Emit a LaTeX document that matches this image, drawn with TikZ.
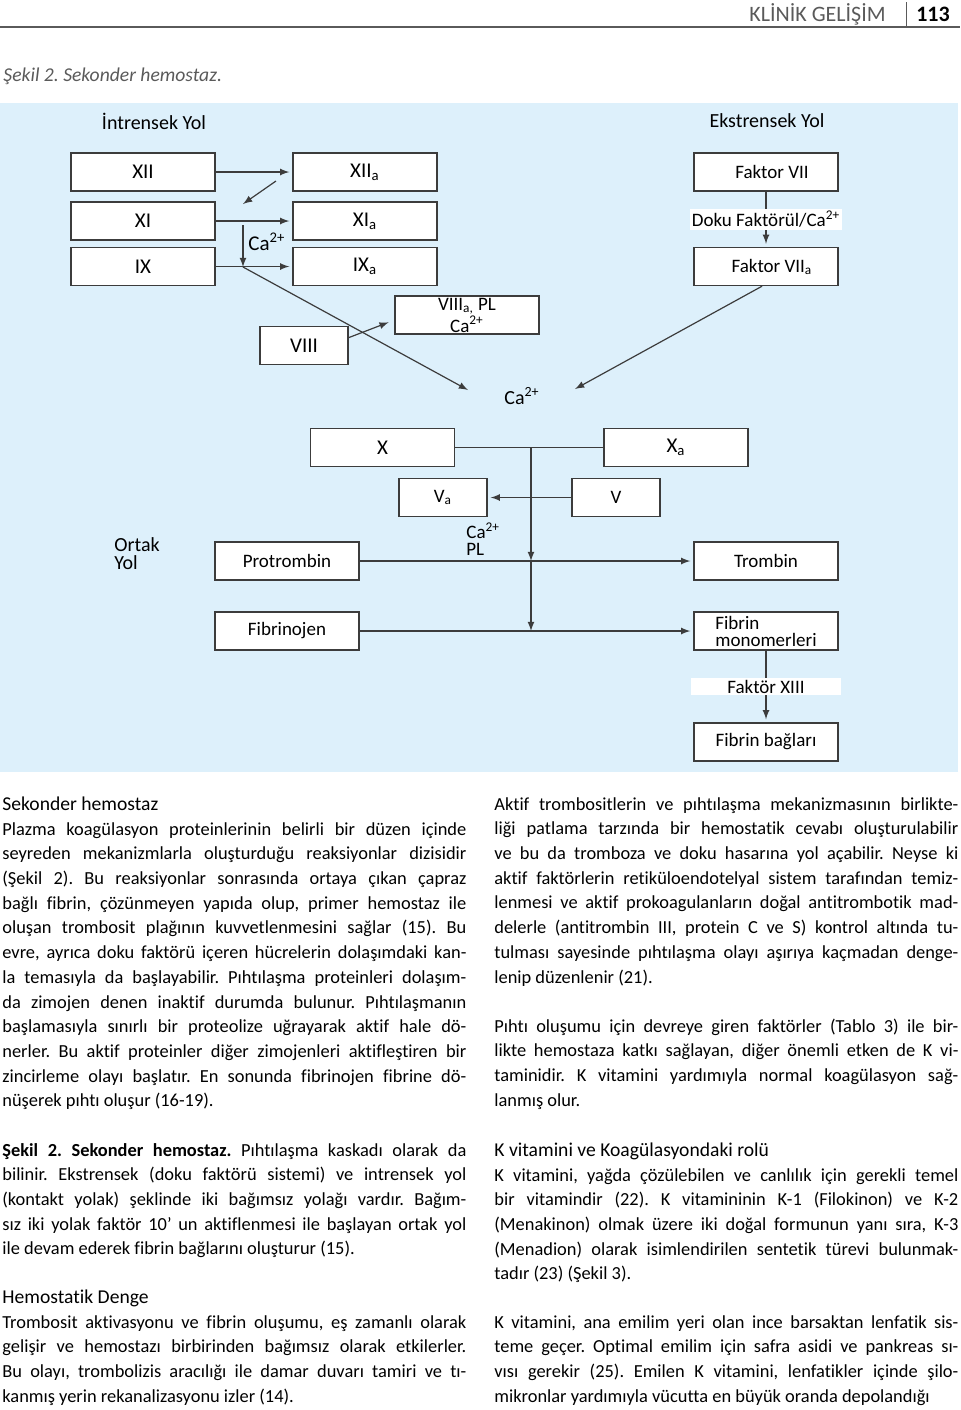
\documentclass[tikz,border=0pt]{standalone}
\usepackage{fontspec}
\setmainfont{Carlito}[Ligatures={NoCommon}]
\usepackage{tikz}
\usetikzlibrary{calc}
\usetikzlibrary{arrows}
\definecolor{bgblue}{RGB}{221,240,251}
\definecolor{linegray}{RGB}{60,60,60}
\definecolor{headgray}{RGB}{90,90,90}
\newcommand{\fsub}[1]{\textsubscript{#1}}
\newcommand{\caion}{Ca\textsuperscript{2+}}
\newcommand{\bodyfont}{\fontsize{9.2}{12.36}\selectfont}
\tolerance=10000
\hbadness=10000
\hyphenpenalty=10000
\frenchspacing
\tikzset{fbox/.style={draw=linegray,fill=white,line width=0.7pt,minimum width=72pt,minimum height=19pt,inner sep=0pt,font=\fontsize{10.5}{12}\selectfont}}
\tikzset{wbox/.style={fbox,font=\fontsize{9.5}{8.5}\selectfont}}
\tikzset{sbox/.style={fbox,minimum width=44pt}}
\tikzset{arr/.style={->,>=latex,draw=linegray,line width=0.6pt,shorten >=1.5pt}}
\tikzset{lbl/.style={fill=white,inner sep=1pt,font=\fontsize{9.5}{11}\selectfont}}
\tikzset{para/.style={anchor=base west,inner sep=0pt,text width=232pt,align=justify,font=\bodyfont}}
\tikzset{head/.style={anchor=base west,inner sep=0pt,font=\fontsize{9.8}{12}\selectfont}}

\begin{document}
\begin{tikzpicture}[x=0.5pt,y=-0.5pt]
\useasboundingbox (0,0) rectangle (960,1410);

% page head
\draw[headgray,line width=1pt] (0,27) -- (960,27);
\draw[headgray,line width=0.5pt] (906,2) -- (906,26);
\node[anchor=base east,inner sep=0pt,text=headgray,font=\fontsize{11}{13}\selectfont] (dergi) at (886,21) {KLİNİK GELİŞİM};
\node[anchor=base,inner sep=0pt,font=\bfseries\fontsize{11}{13}\selectfont] (sayfa) at (933,21) {113};
\node[anchor=base west,inner sep=0pt,text=headgray,font=\itshape\fontsize{9.8}{11}\selectfont] (sekil) at (3,81) {Şekil 2. Sekonder hemostaz.};

% figure
\fill[bgblue] (0,103) rectangle (958,772);
\node[font=\fontsize{10}{12}\selectfont] (intr) at (154,121) {İntrensek Yol};
\node[font=\fontsize{10}{12}\selectfont] (ekst) at (767,121) {Ekstrensek Yol};

\node[fbox] (xii) at (143,172) {XII};
\node[fbox] (xiia) at (365,172) {XII\fsub{a}};
\node[fbox] (xi) at (143,221) {XI};
\node[fbox] (xia) at (365,221) {XI\fsub{a}};
\node[fbox] (ix) at (143,266.5) {IX};
\node[fbox] (ixa) at (365,266.5) {IX\fsub{a}};
\node[sbox] (viii) at (304,345.5) {VIII};
\node[fbox,align=center,font=\fontsize{9.5}{8.6}\selectfont] (viiia) at (467,315) {VIII\fsub{a,} PL\\\caion};

\node[wbox] (f7) at (766,172) {\hspace{6pt}Faktor VII};
\node[wbox] (f7a) at (766,266.5) {\hspace{6pt}Faktor VII\fsub{a}};

\coordinate (xiiaout) at (276,181);
\coordinate (xiin) at (243,204);
\coordinate (catop) at (243,225);
\coordinate (cajoin) at (243,267);
\coordinate (intend) at (468,390);
\coordinate (extend) at (575,389);

\draw[arr] (xii) -- (xiia);
\draw[arr,shorten >=0pt] (xiiaout) -- (xiin);
\draw[arr] (xi) -- (xia);
\draw[arr] (ix) -- (ixa);
\draw[arr,shorten >=0pt] (catop) -- (cajoin);
\node[anchor=west,inner sep=0pt,font=\fontsize{10.5}{12}\selectfont] (ca1) at (248,242) {\caion};
\draw[arr,shorten >=0pt] (cajoin) -- (intend);
\draw[arr,shorten >=3pt] (viii.10) -- (viiia.184);
\draw[arr] (f7) -- node[lbl] (doku) {Doku Faktörül/\caion} (f7a);
\draw[arr,shorten >=0pt] (f7a.south) ++(-4,0) -- (extend);

\node[font=\fontsize{10}{12}\selectfont] (ca2) at (522,396) {\caion};

% ortak yol
\node[fbox] (x) at (382.5,447.5) {X};
\node[fbox] (xa) at (676,447.5) {X\fsub{a}};
\node[sbox,font=\fontsize{9.5}{11}\selectfont] (va) at (443,497.5) {V\fsub{a}};
\node[sbox,font=\fontsize{9.5}{11}\selectfont] (v) at (616,497.5) {V};
\node[anchor=west,align=left,inner sep=0pt,font=\fontsize{9.5}{8.5}\selectfont] (capl) at (466,539) {\caion\\PL};
\node[anchor=west,align=left,inner sep=0pt,font=\fontsize{10}{9}\selectfont] (ortak) at (114,554) {Ortak\\Yol};
\node[wbox] (prot) at (287,561) {Protrombin};
\node[wbox] (trom) at (766,561) {Trombin};
\node[wbox] (fibj) at (287,631) {Fibrinojen};
\node[wbox,align=left] (fibm) at (766,631) {Fibrin\\monomerleri};
\node[wbox] (fibb) at (766,742) {Fibrin bağları};

\coordinate (jx) at (531,447.5);
\coordinate (jp) at (531,561);
\coordinate (jf) at (531,631);

\draw[linegray,line width=0.6pt] (x) -- (xa);
\draw[arr] (v) -- (va);
\draw[arr] (prot) -- (trom);
\draw[arr] (fibj) -- (fibm);
\draw[arr,shorten >=0pt] (jx) -- (jp);
\draw[arr,shorten >=0pt] (jp) -- (jf);
\draw[arr] (fibm) -- node[lbl,minimum width=75pt] (f13) {Faktör XIII} (fibb);

% text, left column
\node[head] (h1) at (2,810) {Sekonder hemostaz};
\node[para] (p1) at (2,835) {Plazma koagülasyon proteinlerinin belirli bir düzen içinde\linebreak
seyreden mekanizmlarla oluşturduğu reaksiyonlar dizisidir\linebreak
(Şekil 2). Bu reaksiyonlar sonrasında ortaya çıkan çapraz\linebreak
bağlı fibrin, çözünmeyen yapıda olup, primer hemostaz ile\linebreak
oluşan trombosit plağının kuvvetlenmesini sağlar (15). Bu\linebreak
evre, ayrıca doku faktörü içeren hücrelerin dolaşımdaki kan-\linebreak
la temasıyla da başlayabilir. Pıhtılaşma proteinleri dolaşım-\linebreak
da zimojen denen inaktif durumda bulunur. Pıhtılaşmanın\linebreak
başlamasıyla sınırlı bir proteolize uğrayarak aktif hale dö-\linebreak
nerler. Bu aktif proteinler diğer zimojenleri aktifleştiren bir\linebreak
zincirleme olayı başlatır. En sonunda fibrinojen fibrine dö-\linebreak
nüşerek pıhtı oluşur (16-19).};
\node[para] (p2) at (2,1156) {\textbf{Şekil 2. Sekonder hemostaz.} Pıhtılaşma kaskadı olarak da\linebreak
bilinir. Ekstrensek (doku faktörü sistemi) ve intrensek yol\linebreak
(kontakt yolak) şeklinde iki bağımsız yolağı vardır. Bağım-\linebreak
sız iki yolak faktör 10’ un aktiflenmesi ile başlayan ortak yol\linebreak
ile devam ederek fibrin bağlarını oluşturur (15).};
\node[head] (h2) at (2,1303) {Hemostatik Denge};
\node[para] (p3) at (2,1328) {Trombosit aktivasyonu ve fibrin oluşumu, eş zamanlı olarak\linebreak
gelişir ve hemostazı birbirinden bağımsız olarak etkilerler.\linebreak
Bu olayı, trombolizis aracılığı ile damar duvarı tamiri ve tı-\linebreak
kanmış yerin rekanalizasyonu izler (14).};

% text, right column
\node[para] (p4) at (494,810) {Aktif trombositlerin ve pıhtılaşma mekanizmasının birlikte-\linebreak
liği patlama tarzında bir hemostatik cevabı oluşturulabilir\linebreak
ve bu da tromboza ve doku hasarına yol açabilir. Neyse ki\linebreak
aktif faktörlerin retiküloendotelyal sistem tarafından temiz-\linebreak
lenmesi ve aktif prokoagulanların doğal antitrombotik mad-\linebreak
delerle (antitrombin III, protein C ve S) kontrol altında tu-\linebreak
tulması sayesinde pıhtılaşma olayı aşırıya kaçmadan denge-\linebreak
lenip düzenlenir (21).};
\node[para] (p5) at (494,1032) {Pıhtı oluşumu için devreye giren faktörler (Tablo 3) ile bir-\linebreak
likte hemostaza katkı sağlayan, diğer önemli etken de K vi-\linebreak
taminidir. K vitamini yardımıyla normal koagülasyon sağ-\linebreak
lanmış olur.};
\node[head] (h3) at (494,1156) {K vitamini ve Koagülasyondaki rolü};
\node[para] (p6) at (494,1181) {K vitamini, yağda çözülebilen ve canlılık için gerekli temel\linebreak
bir vitamindir (22). K vitamininin K-1 (Filokinon) ve K-2\linebreak
(Menakinon) olmak üzere iki doğal formunun yanı sıra, K-3\linebreak
(Menadion) olarak isimlendirilen sentetik türevi bulunmak-\linebreak
tadır (23) (Şekil 3).};
\node[para] (p7) at (494,1328) {\parfillskip=0pt K vitamini, ana emilim yeri olan ince barsaktan lenfatik sis-\linebreak
teme geçer. Optimal emilim için safra asidi ve pankreas sı-\linebreak
vısı gerekir (25). Emilen K vitamini, lenfatikler içinde şilo-\linebreak
mikronlar yardımıyla vücutta en büyük oranda depolandığı};

\end{tikzpicture}
\end{document}
